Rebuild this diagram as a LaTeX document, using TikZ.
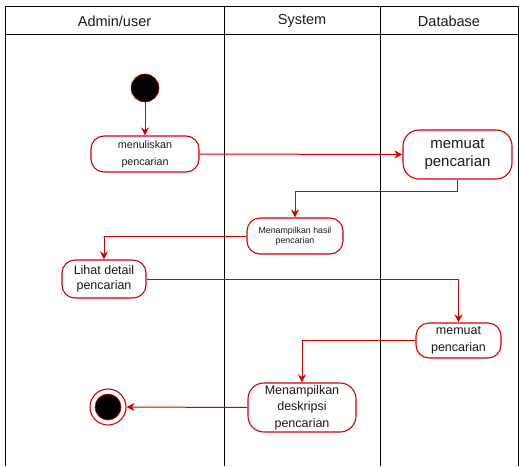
\documentclass[tikz,border=0pt]{standalone}
\usepackage{fontspec}
\setmainfont{Liberation Sans}
\usetikzlibrary{arrows.meta}
\definecolor{flowred}{HTML}{D40000}
\definecolor{txt}{HTML}{1A1A1A}
\tikzset{
  lane/.style={draw=black, line width=0.9pt},
  act/.style={draw=flowred, line width=1.1pt, fill=white, rounded corners=13pt,
    inner sep=0pt, align=center, text=txt},
  flow/.style={draw=flowred, line width=1pt,
    -{Stealth[length=8pt,width=8pt,inset=2.5pt]}},
  head/.style={font=\fontsize{14.5}{17}\selectfont, text=txt}
}
\begin{document}
\begin{tikzpicture}[x=1pt,y=-1pt]
\useasboundingbox (0,0) rectangle (519,466);
% swimlane frame
\draw[lane] (5,466) -- (5,6) -- (518,6) -- (518,466);
\draw[lane] (5,34) -- (518,34);
\draw[lane] (224,6) -- (224,466);
\draw[lane] (380,6) -- (380,466);
\node[head] (h1) at (114.5,21) {Admin/user};
\node[head] (h2) at (302,21) {System};
\node[head] (h3) at (449,21) {Database};

% start and end states
\node[circle, fill=black, draw=flowred, line width=0.6pt, minimum size=28pt, inner sep=0pt] (start) at (145,88) {};
\node[circle, fill=white, draw=flowred, line width=1.1pt, minimum size=36pt, inner sep=0pt] (end) at (108,407) {};
\fill[black, draw=flowred, line width=0.6pt] (end.center) circle (13pt);

% activities
\node[act, minimum width=108pt, minimum height=36pt, font=\fontsize{10.7}{17}\selectfont] (menu) at (145,154) {menuliskan\\pencarian};
\node[act, rounded corners=16pt, minimum width=109pt, minimum height=49pt, font=\fontsize{15}{18}\selectfont] (m1) at (457.5,154.5) {memuat\\pencarian};
\node[act, minimum width=96pt, minimum height=36pt, font=\fontsize{8.8}{10}\selectfont] (hasil) at (295,236) {Menampilkan hasil\\pencarian};
\node[act, minimum width=84pt, minimum height=38pt, font=\fontsize{12.5}{14.5}\selectfont] (lihat) at (104,279) {Lihat detail\\pencarian};
\node[act, minimum width=85pt, minimum height=35pt, font=\fontsize{12.5}{17}\selectfont] (m2) at (458.5,340.5) {memuat\\pencarian};
\node[act, rounded corners=16pt, minimum width=108pt, minimum height=49pt, font=\fontsize{12.5}{16.5}\selectfont] (desk) at (302,407.5) {Menampilkan\\deskripsi\\pencarian};

% control flow
\draw[flow] (start) -- (menu);
\draw[flow] (menu.east) -- (m1.west);
\draw[flow] (m1.south) -- ++(0,12) -| (hasil.north);
\draw[flow] (hasil.west) -| (lihat.north);
\draw[flow] (lihat.east) -| (m2.north);
\draw[flow] (m2.west) -| (desk.north);
\draw[flow] (desk.west) -- (end.east);
\end{tikzpicture}
\end{document}
